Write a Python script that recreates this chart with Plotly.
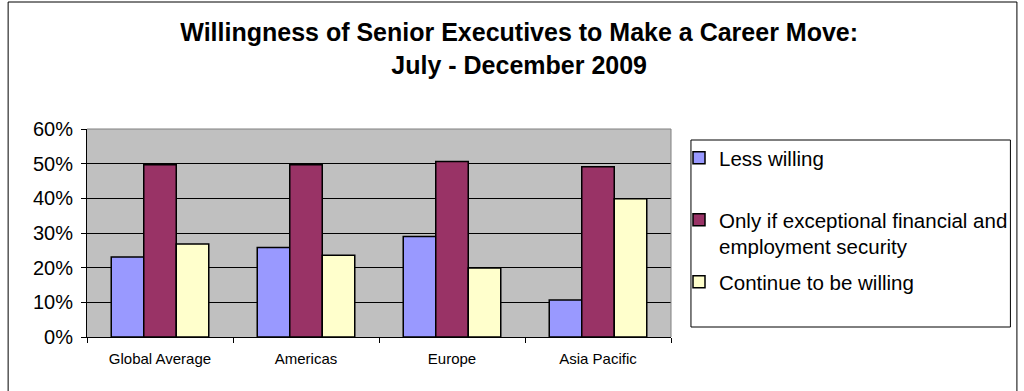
import plotly.graph_objects as go

regions = ["Global Average", "Americas", "Europe", "Asia Pacific"]
less_willing = [23.1, 25.8, 29.0, 10.7]
only_if_secure = [49.7, 49.7, 50.6, 49.1]
continue_willing = [26.8, 23.6, 19.9, 39.9]

series_names = [
    "Less willing",
    "Only if exceptional financial and<br>employment security",
    "Continue to be willing",
]
series_values = [less_willing, only_if_secure, continue_willing]
series_colors = ["#9999FF", "#993366", "#FFFFCC"]
legend_ids = ["legend", "legend2", "legend3"]
# pixel row of each legend entry's first text line
legend_rows = [158, 220, 282]

y_ticks = [0, 10, 20, 30, 40, 50, 60]
y_tick_labels = ["0%", "10%", "20%", "30%", "40%", "50%", "60%"]

W, H = 1024, 391
ML, MR, MT, MB = 87, 352, 129, 54
PW, PH = W - ML - MR, H - MT - MB


def to_px(x, y):
    """pixel position -> paper coordinates of the plotting area"""
    return (x - ML) / PW, (H - MB - y) / PH


fig = go.Figure()
for name, vals, col, lid in zip(series_names, series_values, series_colors, legend_ids):
    fig.add_trace(go.Bar(
        x=regions, y=vals, name=name, legend=lid,
        marker=dict(color=col, line=dict(color="black", width=1.5)),
    ))

legend_layouts = {}
for lid, row in zip(legend_ids, legend_rows):
    lx, ly = to_px(679, row - 20)
    legend_layouts[lid] = dict(
        x=lx, xanchor="left", y=ly, yanchor="top",
        borderwidth=0, bgcolor="rgba(0,0,0,0)",
        font=dict(size=20.5),
        itemwidth=30,
        valign="top",
    )

fig.update_layout(
    width=W, height=H,
    margin=dict(l=ML, r=MR, t=MT, b=MB),
    paper_bgcolor="white",
    plot_bgcolor="#C0C0C0",
    barmode="group",
    bargap=0.332,
    bargroupgap=0,
    font=dict(family="Liberation Sans, Arial, sans-serif", color="black"),
    title=dict(
        text="Willingness of Senior Executives to Make a Career Move:<br>July - December 2009",
        x=0.507, xanchor="center", y=1 - 41 / H, yanchor="middle",
        font=dict(size=25, family="Liberation Sans, Arial, sans-serif", weight="bold"),
    ),
    showlegend=True,
    **legend_layouts,
)

fig.update_xaxes(
    showline=True, linecolor="black", linewidth=1,
    ticks="outside", ticklen=5, tickcolor="black",
    tickson="boundaries",
    tickfont=dict(size=15),
    ticklabelstandoff=8,
    mirror=False,
)
fig.update_yaxes(
    range=[0, 60],
    tickvals=y_ticks, ticktext=y_tick_labels,
    showgrid=True, gridcolor="black", gridwidth=1,
    showline=True, linecolor="black", linewidth=1,
    ticks="outside", ticklen=5, tickcolor="black",
    tickfont=dict(size=20),
    ticklabelstandoff=4,
    zeroline=False,
)

# grey frame on the top and right of the plotting area
fig.add_shape(type="line", xref="paper", yref="paper", x0=0, x1=1, y0=1, y1=1,
              line=dict(color="#808080", width=1))
fig.add_shape(type="line", xref="paper", yref="paper", x0=1, x1=1, y0=0, y1=1,
              line=dict(color="#808080", width=1))

# legend frame
bx0, by1 = to_px(692, 140)
bx1, by0 = to_px(1012, 327)
fig.add_shape(type="rect", xref="paper", yref="paper",
              x0=bx0, x1=bx1, y0=by0, y1=by1,
              line=dict(color="black", width=1))

# outer chart border
ox0, oy1 = to_px(8, 2)
ox1, _ = to_px(1018.5, 0)
fig.add_shape(type="rect", xref="paper", yref="paper",
              x0=ox0, x1=ox1, y0=-0.5, y1=oy1,
              line=dict(color="black", width=1), layer="below")

fig.write_html("out.html")
